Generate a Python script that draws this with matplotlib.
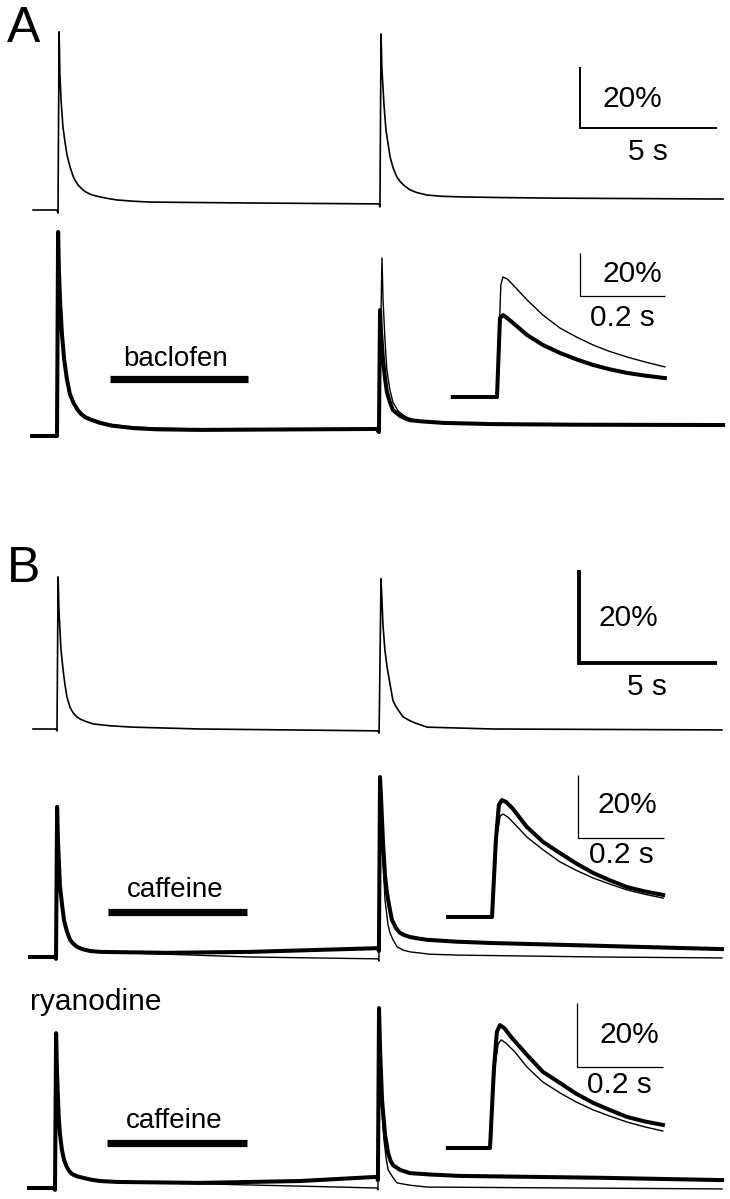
#*********************************************************************************
"""
Ca transients, baclofen (A) and caffeine / ryanodine (B)
"""

#*********************************************************************************
import matplotlib
matplotlib.use('Agg')
import matplotlib.pyplot as plt
import numpy as np

plt.rcParams['font.family'] = ['Liberation Sans', 'DejaVu Sans']

#*********************************************************************************
# data: time (s) after 1st stimulus, dF/F (%)

# A, control row (thin)
a1_t = [-0.91, -0.04, 0.0, 0.04, 0.07, 0.11, 0.15, 0.18, 0.26, 0.33, 0.44, 0.55, 0.62, 0.73,
        0.91, 1.0, 1.17, 1.3, 1.53, 1.8, 2.15, 2.7, 3.36, 4.5, 7.01, 11.72, 11.75, 11.79,
        11.82, 11.90, 11.97, 12.12, 12.23, 12.37, 12.5, 12.65, 12.85, 13.1, 13.47, 14.0,
        14.67, 16.0, 17.96, 24.27]
a1_v = [0, 0, -1.0, 58.4, 44.3, 36.1, 31.1, 27.2, 22.0, 18.0, 14.1, 11.1, 9.8, 8.2,
        6.6, 6.0, 5.2, 4.8, 4.3, 3.8, 3.3, 2.9, 2.6, 2.5, 2.3, 2.0, 1.0, 57.7,
        46.6, 34.1, 26.2, 17.4, 13.8, 10.8, 9.2, 7.9, 6.6, 5.7, 4.9, 4.5,
        4.3, 4.1, 3.9, 3.6]

# A, baclofen row: control (thin) and baclofen (thick)
a2_ctrl_t = [-0.91, 0.0, 0.04, 0.07, 0.11, 0.18, 0.26, 0.36, 0.47, 0.6, 0.73, 0.87, 1.02,
             1.25, 1.57, 2.0, 2.77, 3.6, 5.22, 11.68, 11.75, 11.86, 11.90, 11.97, 12.04,
             12.15, 12.26, 12.45, 12.63, 12.8, 13.07, 13.3, 13.50, 14.0, 14.71, 17.0, 24.31]
a2_ctrl_v = [0, 0, 66.9, 55.1, 45.2, 33.8, 25.6, 19.0, 14.1, 11.2, 9.2, 7.7, 6.6,
             5.6, 4.6, 3.7, 3.0, 2.6, 2.3, 2.3, 1.3, 58.4, 44.6, 31.5, 21.6,
             15.1, 11.1, 8.2, 6.9, 6.0, 5.2, 4.9, 4.6, 4.3, 3.9, 3.8, 3.6]
a2_bac_t = [-0.91, 0.0, 0.04, 0.07, 0.11, 0.18, 0.26, 0.36, 0.47, 0.6, 0.73, 0.87, 1.02,
            1.25, 1.57, 2.0, 2.77, 3.6, 5.22, 11.68, 11.75, 11.79, 11.82, 11.90, 11.97,
            12.04, 12.15, 12.26, 12.52, 12.7, 12.88, 13.3, 14.09, 15.0, 15.91, 19.0, 24.31]
a2_bac_v = [0, 0, 66.9, 54.4, 44.6, 33.4, 25.2, 18.7, 13.8, 10.9, 8.9, 7.3, 6.2,
            5.3, 4.3, 3.4, 2.6, 2.2, 2.0, 2.3, 1.3, 41.3, 34.8, 24.9, 19.0,
            14.4, 11.1, 8.5, 6.6, 5.8, 5.2, 4.8, 4.3, 4.1, 3.9, 3.7, 3.6]
baclofen_on, baclofen_off = 1.93, 6.97

# A inset (fast time base), time from rise
a2_ins_ctrl_t = [-0.104, 0.0, 0.009, 0.014, 0.024, 0.038, 0.071, 0.108, 0.148, 0.187, 0.226,
                 0.265, 0.306, 0.35, 0.395]
a2_ins_ctrl_v = [0, 0, 52.1, 55.8, 54.9, 52.1, 45.1, 38.1, 32.1, 27.9, 24.2,
                 21.2, 18.6, 16.2, 14.0]
a2_ins_bac_t = [-0.104, 0.0, 0.007, 0.014, 0.024, 0.038, 0.071, 0.108, 0.148, 0.187, 0.226,
                0.265, 0.306, 0.35, 0.395]
a2_ins_bac_v = [0, 0, 36.7, 38.1, 36.7, 34.4, 28.8, 24.2, 20.5, 17.5, 14.9,
                12.9, 11.2, 9.9, 8.8]

# B, control row
b1_t = [-0.87, -0.04, 0.0, 0.04, 0.07, 0.11, 0.14, 0.22, 0.29, 0.36, 0.47, 0.58, 0.72, 0.85,
        1.01, 1.30, 1.9, 2.75, 5.18, 11.63, 11.67, 11.74, 11.78, 11.81, 11.88, 11.96, 12.07,
        12.17, 12.26, 12.36, 12.54, 12.75, 12.97, 13.41, 15.80, 24.09]
b1_v = [0, 0, -0.4, 32.7, 25.6, 20.9, 17.4, 12.7, 9.5, 6.9, 4.7, 3.5, 2.6, 2.1,
        1.7, 1.1, 0.7, 0.4, 0, -0.4, -0.9, 32.3, 26.7, 22.4, 17.0, 13.3, 9.5,
        6.2, 5.0, 4.1, 2.6, 1.9, 1.3, 0.4, 0, -0.2]

# B, caffeine row: control (thin) and caffeine (thick)
b2_ctrl_t = [-0.94, -0.04, 0.0, 0.04, 0.07, 0.11, 0.14, 0.22, 0.29, 0.40, 0.51, 0.62, 0.76,
             0.95, 1.23, 1.59, 4.02, 7.03, 11.67, 11.70, 11.74, 11.78, 11.85, 11.92, 12.03,
             12.10, 12.21, 12.36, 12.57, 12.83, 13.55, 14.64, 19.71, 24.13]
b2_ctrl_v = [0, 0, -0.4, 32.3, 25.2, 19.8, 15.5, 11.2, 7.9, 5.4, 3.7, 2.9, 2.2,
             1.7, 1.3, 1.1, 0.6, 0, -0.4, -0.9, 38.0, 30.1, 20.4, 12.3, 6.9,
             5.2, 3.7, 2.2, 1.5, 1.1, 0.6, 0.4, 0, -0.2]
b2_caf_t = [-0.94, -0.04, 0.0, 0.04, 0.07, 0.11, 0.14, 0.22, 0.29, 0.40, 0.51, 0.62, 0.76,
            0.95, 1.23, 1.59, 4.02, 7.03, 11.67, 11.70, 11.74, 11.78, 11.85, 11.92, 11.99,
            12.10, 12.17, 12.32, 12.46, 12.62, 12.83, 13.1, 13.44, 14.5, 15.83, 19.71, 24.13]
b2_caf_v = [0, 0, -0.4, 32.3, 25.2, 19.8, 15.5, 11.2, 7.9, 5.4, 3.7, 2.9, 2.2,
            1.7, 1.3, 1.1, 0.9, 1.1, 1.9, 1.3, 38.7, 33.8, 24.5, 17.6, 13.8,
            10.1, 8.0, 6.2, 5.2, 4.7, 4.3, 4.0, 3.7, 3.3, 3.0, 2.4, 1.7]
caffeine_on, caffeine_off = 1.88, 6.92

b2_ins_ctrl_t = [-0.102, 0.0, 0.012, 0.019, 0.026, 0.037, 0.053, 0.081, 0.119, 0.158, 0.196,
                 0.235, 0.275, 0.314, 0.356, 0.398]
b2_ins_ctrl_v = [0, 0, 26.0, 32.1, 32.7, 31.7, 29.5, 25.4, 21.3, 17.5, 14.8,
                 12.4, 10.4, 8.6, 7.2, 6.0]
b2_ins_caf_t = [-0.102, 0.0, 0.009, 0.016, 0.023, 0.033, 0.047, 0.081, 0.119, 0.158, 0.196,
                0.235, 0.275, 0.314, 0.356, 0.398]
b2_ins_caf_v = [0, 0, 24.4, 35.6, 37.1, 36.5, 34.6, 28.6, 23.8, 20.3, 17.0,
                14.0, 11.6, 9.5, 8.1, 7.0]

# B, ryanodine + caffeine row
b3_ctrl_t = [-0.94, -0.07, 0.0, 0.04, 0.07, 0.11, 0.14, 0.18, 0.25, 0.33, 0.43, 0.52, 0.62,
             0.8, 1.01, 1.3, 1.63, 2.25, 5.25, 8.88, 11.67, 11.70, 11.74, 11.78, 11.81,
             11.86, 11.92, 12.0, 12.07, 12.25, 12.39, 12.86, 13.48, 24.17]
b3_ctrl_v = [0, 0, -0.4, 33.3, 25.4, 19.0, 14.8, 11.6, 8.2, 6.0, 4.5, 3.6, 3.0,
             2.5, 2.2, 1.8, 1.5, 1.3, 0.9, 0.4, 0, -0.4, 38.1, 27.1, 21.5,
             15.0, 10.3, 6.3, 3.9, 2.2, 1.1, 0.6, 0.2, -0.2]
b3_caf_t = [-0.94, -0.07, 0.0, 0.04, 0.07, 0.11, 0.14, 0.18, 0.25, 0.33, 0.43, 0.52, 0.62,
            0.8, 1.01, 1.3, 1.63, 2.25, 5.25, 8.88, 11.67, 11.70, 11.74, 11.78, 11.85,
            11.96, 12.07, 12.16, 12.25, 12.50, 12.86, 13.6, 14.67, 19.75, 24.17]
b3_caf_v = [0, 0, -0.4, 33.3, 25.4, 19.0, 14.8, 11.6, 8.2, 6.0, 4.5, 3.6, 3.0,
            2.5, 2.2, 1.8, 1.5, 1.3, 1.1, 1.5, 2.4, 1.7, 38.7, 29.5, 18.9,
            11.4, 7.5, 5.8, 4.9, 3.9, 3.2, 2.9, 2.6, 2.2, 1.7]
ryano_caf_on, ryano_caf_off = 1.88, 6.96

b3_ins_ctrl_t = [-0.098, 0.0, 0.012, 0.019, 0.026, 0.037, 0.058, 0.086, 0.123, 0.163, 0.2,
                 0.240, 0.28, 0.319, 0.36, 0.402]
b3_ins_ctrl_v = [0, 0, 26.0, 32.5, 33.8, 32.8, 30.0, 25.3, 20.6, 17.2, 14.4,
                 11.9, 9.9, 8.1, 6.6, 5.3]
b3_ins_caf_t = [-0.098, 0.0, 0.009, 0.016, 0.023, 0.033, 0.051, 0.086, 0.123, 0.163, 0.2,
                0.240, 0.28, 0.319, 0.36, 0.402]
b3_ins_caf_v = [0, 0, 24.4, 36.3, 38.4, 37.5, 34.4, 29.1, 23.8, 20.3, 17.0,
                14.1, 11.8, 9.7, 8.3, 7.2]

#*********************************************************************************
# layout (pixels)
W, H = 730, 1199
fig = plt.figure(figsize=(W/100, H/100), dpi=100)

thin, thick = 1.0, 2.9
fs = 21.5

def trace_axes(x0, y0, px_s, px_pct):
   # full-figure axes with t=0, v=0 at pixel (x0, y0)
   ax = fig.add_axes([0, 0, 1, 1])
   ax.set_xlim(-x0/px_s, (W-x0)/px_s)
   ax.set_ylim(-(H-y0)/px_pct, y0/px_pct)
   ax.axis('off')
   ax.patch.set_alpha(0)
   return ax

def scalebar(ax, t0, v0, dt, dv, lw):
   ax.plot([t0, t0, t0+dt], [v0+dv, v0, v0], color='k', lw=lw,
           solid_joinstyle='miter', solid_capstyle='butt')

def drugbar(ax, on, off, v, label, lx, ly):
   ax.plot([on, off], [v, v], color='k', lw=5.2, solid_capstyle='butt')
   ax.text(lx, ly, label, ha='center', va='baseline', fontsize=20)

#*********************************************************************************
# A
ax = trace_axes(58, 210, 27.4, 3.05)
ax.plot(a1_t, a1_v, color='k', lw=1.2)
scalebar(ax, 19.05, 26.9, 5, 20, 1.4)
ax.text(20.95, 33.8, '20%', ha='center', va='baseline', fontsize=fs)
ax.text(21.53, 16.4, '5 s', ha='center', va='baseline', fontsize=fs)

ax = trace_axes(57, 436, 27.4, 3.05)
ax.plot(a2_ctrl_t, a2_ctrl_v, color='k', lw=thin)
ax.plot(a2_bac_t, a2_bac_v, color='k', lw=thick)
drugbar(ax, baclofen_on, baclofen_off, 18.7, 'baclofen', 4.34, 23.0)

ax = trace_axes(497, 397, 425, 2.15)
ax.plot(a2_ins_ctrl_t, a2_ins_ctrl_v, color='k', lw=thin)
ax.plot(a2_ins_bac_t, a2_ins_bac_v, color='k', lw=thick)
scalebar(ax, 0.195, 47.0, 0.2, 20, 0.9)
ax.text(0.318, 53.5, '20%', ha='center', va='baseline', fontsize=fs)
ax.text(0.294, 33.0, '0.2 s', ha='center', va='baseline', fontsize=fs)

#*********************************************************************************
# B
ax = trace_axes(57, 729, 27.6, 4.65)
ax.plot(b1_t, b1_v, color='k', lw=1.2)
scalebar(ax, 18.91, 14.2, 5, 20, 2.8)
ax.text(20.72, 22.2, '20%', ha='center', va='baseline', fontsize=fs)
ax.text(21.38, 7.3, '5 s', ha='center', va='baseline', fontsize=fs)

ax = trace_axes(56, 957, 27.6, 4.65)
ax.plot(b2_ctrl_t, b2_ctrl_v, color='k', lw=thin)
ax.plot(b2_caf_t, b2_caf_v, color='k', lw=thick)
drugbar(ax, caffeine_on, caffeine_off, 9.7, 'caffeine', 4.31, 12.9)

ax = trace_axes(492, 917, 430, 3.15)
ax.plot(b2_ins_ctrl_t, b2_ins_ctrl_v, color='k', lw=thin)
ax.plot(b2_ins_caf_t, b2_ins_caf_v, color='k', lw=thick)
scalebar(ax, 0.200, 25.1, 0.2, 20, 0.9)
ax.text(0.314, 33.0, '20%', ha='center', va='baseline', fontsize=fs)
ax.text(0.300, 17.1, '0.2 s', ha='center', va='baseline', fontsize=fs)

ax = trace_axes(55, 1188, 27.6, 4.65)
ax.plot(b3_ctrl_t, b3_ctrl_v, color='k', lw=thin)
ax.plot(b3_caf_t, b3_caf_v, color='k', lw=thick)
drugbar(ax, ryano_caf_on, ryano_caf_off, 9.7, 'caffeine', 4.31, 12.9)
ax.text(-0.91, 38.3, 'ryanodine', ha='left', va='baseline', fontsize=fs)

ax = trace_axes(490, 1148, 430, 3.2)
ax.plot(b3_ins_ctrl_t, b3_ins_ctrl_v, color='k', lw=thin)
ax.plot(b3_ins_caf_t, b3_ins_caf_v, color='k', lw=thick)
scalebar(ax, 0.202, 25.3, 0.2, 20, 0.9)
ax.text(0.323, 32.8, '20%', ha='center', va='baseline', fontsize=fs)
ax.text(0.302, 17.2, '0.2 s', ha='center', va='baseline', fontsize=fs)

# panel letters
fig.text(7/W, 1-42/H, 'A', ha='left', va='baseline', fontsize=36)
fig.text(7/W, 1-582/H, 'B', ha='left', va='baseline', fontsize=36)

fig.savefig('out.png', dpi=100)
plt.close()
